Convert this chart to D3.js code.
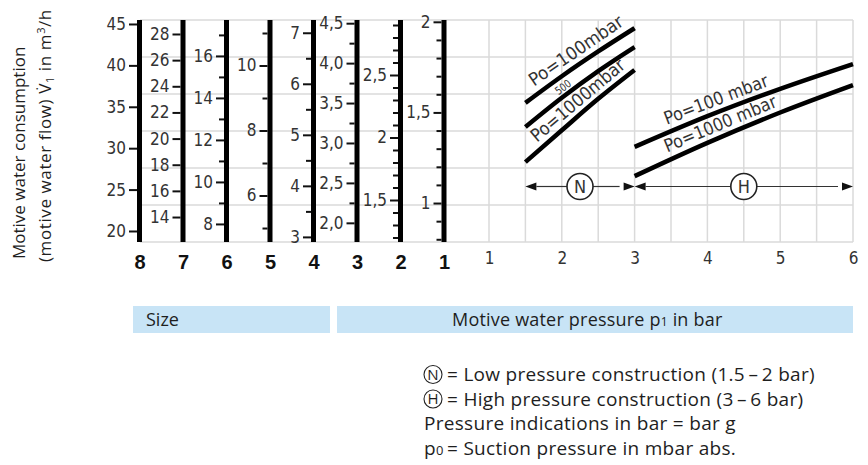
<!DOCTYPE html>
<html>
<head>
<meta charset="utf-8">
<script src="https://d3js.org/d3.v7.min.js"></script>
<style>
  html,body{margin:0;padding:0;background:#fff;}
  svg{display:block;}
  .num{font-family:"DejaVu Sans Condensed","DejaVu Sans",sans-serif;font-stretch:condensed;fill:#333;}
  .txt{font-family:"Open Sans","Noto Sans",sans-serif;fill:#1e1e1e;}
</style>
</head>
<body>
<svg id="chart" width="868" height="465"></svg>
<script>
// ---------------- DATA ----------------
const sizes = [8, 7, 6, 5, 4, 3, 2, 1];
// value that each size scale reads at the bottom and at the top of its bar (m3/h)
const sizeBottomValue = [18.67, 12.09, 7.14, 4.57, 2.90, 1.76, 1.164, 0.785];
const sizeTopValue    = [45.48, 29.07, 17.71, 11.40, 7.25, 4.54, 2.94, 2.01];
const sizeMajorTicks = [
  [20, 25, 30, 35, 40, 45],
  [14, 16, 18, 20, 22, 24, 26, 28],
  [8, 10, 12, 14, 16],
  [6, 8, 10],
  [3, 4, 5, 6, 7],
  [2.0, 2.5, 3.0, 3.5, 4.0, 4.5],
  [1.5, 2, 2.5],
  [1, 1.5, 2]
];
const sizeMajorLabels = [
  ["20", "25", "30", "35", "40", "45"],
  ["14", "16", "18", "20", "22", "24", "26", "28"],
  ["8", "10", "12", "14", "16"],
  ["6", "8", "10"],
  ["3", "4", "5", "6", "7"],
  ["2,0", "2,5", "3,0", "3,5", "4,0", "4,5"],
  ["1,5", "2", "2,5"],
  ["1", "1,5", "2"]
];
const sizeMinorTicks = [
  [],
  [],
  [9, 11, 13, 15, 17],
  [5, 7, 9, 11],
  [3.5, 4.5, 5.5, 6.5],
  [2.25, 2.75, 3.25, 3.75, 4.25],
  [1.2, 1.3, 1.4, 1.6, 1.7, 1.8, 1.9, 2.1, 2.2, 2.3, 2.4, 2.6, 2.7, 2.8, 2.9],
  [0.8, 0.9, 1.1, 1.2, 1.3, 1.4, 1.6, 1.7, 1.8, 1.9]
];

const pressureTicks = [1, 2, 3, 4, 5, 6];
const pressureGrid = [1, 1.5, 2, 2.5, 3, 3.5, 4, 4.5, 5, 5.5, 6];
const flowGridLevels = [0, 1, 2, 3, 4, 5, 6];

// relative flow (grid units) versus motive water pressure p1 (bar)
const pressureN = [1.5, 2, 2.5, 3];
const flowN100  = [3.76, 4.48, 5.15, 5.78];
const flowN500  = [3.11, 3.90, 4.62, 5.27];
const flowN1000 = [2.16, 3.02, 3.87, 4.65];
const pressureH = [3, 4, 5, 6];
const flowH100  = [2.57, 3.40, 4.14, 4.81];
const flowH1000 = [1.78, 2.68, 3.50, 4.24];
const curveLabels = ["Po=100mbar", "500", "Po=1000mbar", "Po=100 mbar", "Po=1000 mbar"];

const rangeNames = ["N", "H"];
const rangeFrom = [1.5, 3];
const rangeTo = [3, 6];
const rangeLevel = 1.5;

const yTitle1 = "Motive water consumption";
const sizeBoxText = "Size";
const legendTexts = [
  "= Low pressure construction (1.5\u2009\u2013\u20092 bar)",
  "= High pressure construction (3\u2009\u2013\u20096 bar)",
  "Pressure indications in bar = bar g",
  "= Suction pressure in mbar abs."
];

// ---------------- LAYOUT ----------------
const svg = d3.select("#chart");
const yTop = 20, yBot = 242;
const xSize = d3.scalePoint().domain(sizes).range([139.5, 444]);
const yRel = d3.scaleLinear().domain([0, 6]).range([yBot, yTop]);
const xP = d3.scaleLinear().domain([1, 6]).range([489, 853]);
const gridColor = "#dadada";

// grid
const grid = svg.append("g");
grid.selectAll("line.h").data(flowGridLevels).join("line")
  .attr("x1", 140).attr("x2", xP(6))
  .attr("y1", d => yRel(d)).attr("y2", d => yRel(d))
  .attr("stroke", gridColor).attr("stroke-width", 1.5);
grid.selectAll("line.v").data(pressureGrid).join("line")
  .attr("x1", d => xP(d)).attr("x2", d => xP(d))
  .attr("y1", yRel(0)).attr("y2", yRel(6))
  .attr("stroke", gridColor).attr("stroke-width", 1.5);

// size scales
sizes.forEach((s, i) => {
  const sc = d3.scaleLinear().domain([sizeBottomValue[i], sizeTopValue[i]]).range([yBot, yTop]);
  const x0 = xSize(s) - 2.5;
  const gMaj = svg.append("g").attr("transform", `translate(${x0},0)`)
    .call(d3.axisLeft(sc).tickValues(sizeMajorTicks[i]).tickSize(8).tickPadding(3)
      .tickFormat((d, j) => sizeMajorLabels[i][j]));
  const gMin = svg.append("g").attr("transform", `translate(${x0},0)`)
    .call(d3.axisLeft(sc).tickValues(sizeMinorTicks[i]).tickSize(5).tickFormat(""));
  [gMaj, gMin].forEach(g => {
    g.select(".domain").remove();
    g.selectAll(".tick line").attr("stroke", "#111").attr("stroke-width", 2);
    g.selectAll(".tick text").attr("class", "num").style("font-size", "17px").attr("fill", "#333");
  });
  svg.append("line").attr("x1", xSize(s)).attr("x2", xSize(s))
    .attr("y1", yTop).attr("y2", yBot)
    .attr("stroke", "#000").attr("stroke-width", 5);
});

// size numbers
const gSizes = svg.append("g").attr("transform", `translate(0,${yBot})`)
  .call(d3.axisBottom(xSize).tickSize(0).tickPadding(13));
gSizes.select(".domain").remove();
gSizes.selectAll(".tick text")
  .style("font-family", "'Liberation Sans', Arial, sans-serif")
  .style("font-weight", "bold").style("font-size", "20px").attr("fill", "#111");

// pressure axis
const gP = svg.append("g").attr("transform", `translate(0,${yBot})`)
  .call(d3.axisBottom(xP).tickValues(pressureTicks).tickSize(0).tickPadding(10).tickFormat(d3.format("d")));
gP.select(".domain").remove();
gP.selectAll(".tick text").attr("class", "num").style("font-size", "17px").attr("fill", "#444");

// curves
const seriesP = [pressureN, pressureN, pressureN, pressureH, pressureH];
const seriesV = [flowN100, flowN500, flowN1000, flowH100, flowH1000];
const line = d3.line().x(d => xP(d[0])).y(d => yRel(d[1])).curve(d3.curveMonotoneX);
seriesP.forEach((ps, i) => {
  svg.append("path").datum(ps.map((p, j) => [p, seriesV[i][j]]))
    .attr("d", line).attr("fill", "none").attr("stroke", "#000").attr("stroke-width", 4.5);
});

// curve labels
const labelSpec = [
  {p: 1.68, off: 8, fs: 18, len: 110, anchor: "start"},
  {p: 2.08, off: 4, fs: 11, len: 17, anchor: "middle"},
  {p: 1.72, off: 7, fs: 18, len: 117, anchor: "start"},
  {p: 3.48, off: 8, fs: 18, len: 110, anchor: "start"},
  {p: 3.49, off: 8, fs: 18, len: 120, anchor: "start"}
];
labelSpec.forEach((L, i) => {
  const ps = seriesP[i], vs = seriesV[i];
  const interp = d3.scaleLinear().domain(ps).range(vs);
  const x1 = xP(ps[0]), y1 = yRel(vs[0]), x2 = xP(ps[ps.length - 1]), y2 = yRel(vs[vs.length - 1]);
  const ang = Math.atan2(y2 - y1, x2 - x1) * 180 / Math.PI;
  svg.append("text").attr("class", "num")
    .attr("transform", `translate(${xP(L.p)},${yRel(interp(L.p))}) rotate(${ang})`)
    .attr("y", -L.off).attr("text-anchor", L.anchor)
    .attr("textLength", L.len).attr("lengthAdjust", "spacingAndGlyphs")
    .style("font-size", L.fs + "px").attr("fill", "#111")
    .text(curveLabels[i]);
});

// range arrows
const yA = yRel(rangeLevel), aL = 11, aH = 4, r = 13;
rangeNames.forEach((n, i) => {
  const xa = xP(rangeFrom[i]), xb = xP(rangeTo[i]), xc = xP((rangeFrom[i] + rangeTo[i]) / 2);
  const g = svg.append("g");
  g.append("line").attr("x1", xa + aL).attr("x2", xc - r).attr("y1", yA).attr("y2", yA)
    .attr("stroke", "#333").attr("stroke-width", 1.2);
  g.append("line").attr("x1", xc + r).attr("x2", xb - aL - 4).attr("y1", yA).attr("y2", yA)
    .attr("stroke", "#333").attr("stroke-width", 1.2);
  g.append("path").attr("d", `M${xa},${yA}L${xa + aL},${yA - aH}L${xa + aL},${yA + aH}Z`).attr("fill", "#111");
  g.append("path").attr("d", `M${xb},${yA}L${xb - aL},${yA - aH}L${xb - aL},${yA + aH}Z`).attr("fill", "#111");
  g.append("circle").attr("cx", xc).attr("cy", yA).attr("r", r)
    .attr("fill", "#fff").attr("stroke", "#222").attr("stroke-width", 1.6);
  g.append("text").attr("class", "num").attr("x", xc).attr("y", yA).attr("dy", "0.36em")
    .attr("text-anchor", "middle").style("font-size", "18px").attr("fill", "#111").text(n);
});

// y title
svg.append("text").attr("class", "txt").attr("transform", "translate(25,259) rotate(-90)")
  .style("font-size", "17px").text(yTitle1);
const t2 = svg.append("text").attr("class", "txt").attr("transform", "translate(51,262) rotate(-90)")
  .style("font-size", "17px").style("letter-spacing", "0.6px");
t2.append("tspan").text("(motive water flow) V\u0307");
t2.append("tspan").attr("dy", 3).style("font-size", "11px").text("1");
t2.append("tspan").attr("dy", -3).text(" in m");
t2.append("tspan").attr("dy", -6).style("font-size", "11px").text("3");
t2.append("tspan").attr("dy", 6).text("/h");

// bottom boxes
svg.append("rect").attr("x", 133).attr("y", 306).attr("width", 197).attr("height", 27).attr("fill", "#c8e4f6");
svg.append("rect").attr("x", 337).attr("y", 306).attr("width", 516).attr("height", 27).attr("fill", "#c8e4f6");
svg.append("text").attr("class", "txt").attr("x", 146).attr("y", 326).style("font-size", "18px").text(sizeBoxText);
const tb = svg.append("text").attr("class", "txt").attr("x", 452).attr("y", 326)
  .style("font-size", "18px").style("letter-spacing", "0.2px");
tb.append("tspan").text("Motive water pressure p");
tb.append("tspan").style("font-size", "12px").text("1");
tb.append("tspan").text(" in bar");

// legend
const lx = 424, eqx = 447, ly = [381, 405.5, 430, 454.5];
const legendStyle = sel => sel.style("font-size", "19px").style("letter-spacing", "0.3px");
["N", "H"].forEach((n, i) => {
  svg.append("circle").attr("cx", lx + 9).attr("cy", ly[i] - 6.5).attr("r", 9)
    .attr("fill", "none").attr("stroke", "#222").attr("stroke-width", 1.1);
  svg.append("text").attr("class", "txt").attr("x", lx + 9).attr("y", ly[i] - 1.5).attr("text-anchor", "middle")
    .style("font-size", "15px").text(n);
  svg.append("text").attr("class", "txt").attr("x", eqx).attr("y", ly[i]).call(legendStyle).text(legendTexts[i]);
});
svg.append("text").attr("class", "txt").attr("x", lx).attr("y", ly[2]).call(legendStyle).text(legendTexts[2]);
const t4 = svg.append("text").attr("class", "txt").attr("x", lx).attr("y", ly[3]).call(legendStyle);
t4.append("tspan").text("p");
t4.append("tspan").style("font-size", "13px").text("0");
svg.append("text").attr("class", "txt").attr("x", eqx).attr("y", ly[3]).call(legendStyle).text(legendTexts[3]);
</script>
</body>
</html>
